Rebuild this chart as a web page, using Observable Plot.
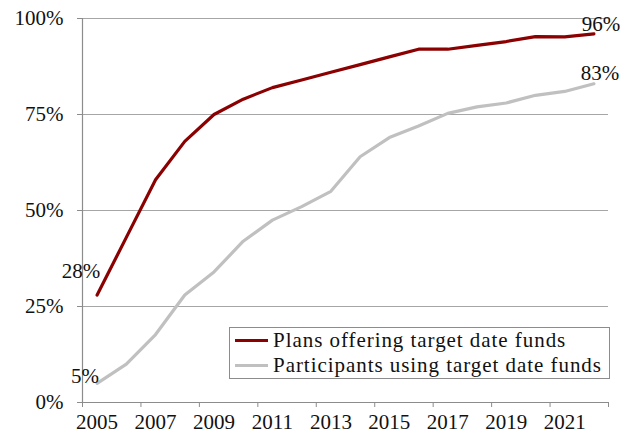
<!DOCTYPE html>
<html>
<head>
<meta charset="utf-8">
<script src="https://cdn.jsdelivr.net/npm/d3@7"></script>
<script src="https://cdn.jsdelivr.net/npm/@observablehq/plot@0.6"></script>
<style>
  html, body { margin: 0; padding: 0; background: #fff; font-family: 'Liberation Serif', serif; }
  #wrap { position: relative; width: 630px; height: 433px; font-family: 'Liberation Serif', serif; }
  #legend {
    position: absolute; left: 229px; top: 327px; width: 381px; height: 52px;
    border: 1px solid #8c8c8c; box-sizing: border-box; background: #fff;
    font-size: 21px; color: #111; padding: 0 0 0 5px; font-family: 'Liberation Serif', serif;
    letter-spacing: 0.95px;
  }
  #legend .row { display: flex; align-items: center; height: 25px; white-space: nowrap; }
  #legend .sw { width: 33px; height: 3px; margin-right: 5px; flex: none; }
  svg text { font-family: 'Liberation Serif', serif !important; }
</style>
</head>
<body>
<div id="wrap"></div>
<script>
const years = [2005,2006,2007,2008,2009,2010,2011,2012,2013,2014,2015,2016,2017,2018,2019,2020,2021,2022];
const plansOffering = [28,43,58,68,75,79,82,84,86,88,90,92,92,93,94,95.3,95.2,96];
const participantsUsing = [5,10,17.7,28,34,42,47.5,51,55,64,69,72,75.3,77,78,80,81,83];
const seriesNames = ["Plans offering target date funds", "Participants using target date funds"];
const seriesColors = ["#8b0000", "#c0c0c0"];
const yTicks = [0,25,50,75,100];
const xLabelYears = [2005,2007,2009,2011,2013,2015,2017,2019,2021];

const FONT = "'Liberation Serif', serif";

const rows = [];
years.forEach((yr, i) => {
  rows.push({year: yr, value: plansOffering[i], series: seriesNames[0]});
  rows.push({year: yr, value: participantsUsing[i], series: seriesNames[1]});
});

const boundaries = d3.range(years[0] - 0.5, years[years.length - 1] + 1, 2);
const last = years.length - 1;

function endLabel(year, value, dx, dy) {
  return Plot.text([{year, value}], {x: "year", y: "value", text: d => d.value + "%", dx, dy,
    textAnchor: "middle", fontSize: 21, fill: "#111"});
}

const chart = Plot.plot({
  width: 630,
  height: 433,
  marginLeft: 82,
  marginRight: 22,
  marginTop: 18,
  marginBottom: 31,
  style: {fontFamily: FONT, fontSize: "21px", color: "#111", background: "#fff"},
  x: {domain: [years[0] - 0.5, years[last] + 0.5], label: null},
  y: {domain: [0, 100], label: null},
  color: {domain: seriesNames, range: seriesColors},
  marks: [
    Plot.ruleY(yTicks.filter(d => d > 0), {stroke: "#a6a6a6", strokeWidth: 1.2}),
    Plot.ruleX([years[0] - 0.5], {stroke: "#8c8c8c", strokeWidth: 1.2}),
    Plot.ruleY([0], {stroke: "#8c8c8c", strokeWidth: 1.2}),
    Plot.axisY({ticks: yTicks, tickSize: 5, tickPadding: 14, stroke: "#8c8c8c", tickFormat: d => d + "%", fontSize: 21, fill: "#111", label: null}),
    Plot.axisX({ticks: boundaries, tickSize: 5, stroke: "#8c8c8c", tickFormat: () => "", label: null}),
    Plot.axisX({ticks: xLabelYears, tickSize: 0, tickPadding: 12, tickFormat: d => String(d), fontSize: 21, fill: "#111", label: null}),
    Plot.line(rows, {x: "year", y: "value", stroke: "series", z: "series", strokeWidth: 3.2, curve: "linear"}),
    endLabel(years[0], plansOffering[0], -16, -24),
    endLabel(years[0], participantsUsing[0], -12, -7),
    endLabel(years[last], plansOffering[last], 7, -10),
    endLabel(years[last], participantsUsing[last], 6, -11)
  ]
});

document.getElementById("wrap").appendChild(chart);

const legend = document.createElement("div");
legend.id = "legend";
seriesNames.forEach((name, i) => {
  const row = document.createElement("div");
  row.className = "row";
  const sw = document.createElement("span");
  sw.className = "sw";
  sw.style.background = seriesColors[i];
  row.appendChild(sw);
  row.appendChild(document.createTextNode(name));
  legend.appendChild(row);
});
document.getElementById("wrap").appendChild(legend);
</script>
</body>
</html>
